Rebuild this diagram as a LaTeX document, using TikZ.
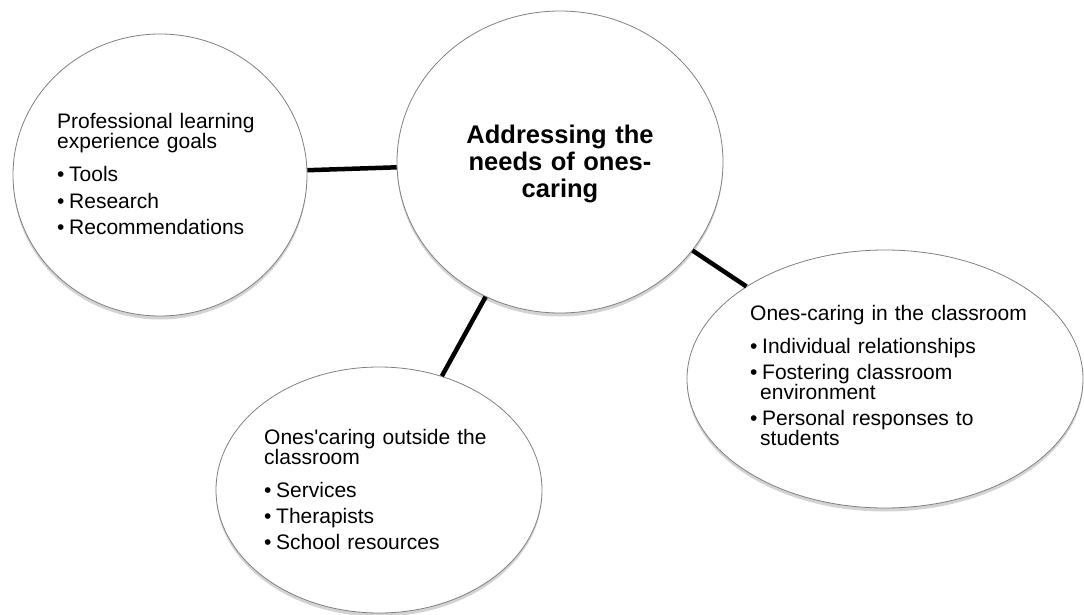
\documentclass[tikz,border=0pt]{standalone}
\usepackage{fontspec}
\setmainfont{Liberation Sans}
\usetikzlibrary{shapes.geometric,shadows}

\tikzset{
  bubble/.style={ellipse, draw=gray, line width=0.8pt, fill=white, inner sep=0pt,
    drop shadow={shadow xshift=0pt, shadow yshift=-3.5pt, opacity=0.35}},
  link/.style={line width=4.5pt, black},
  blurb/.style={anchor=base west, inner sep=0pt, text width=300pt, align=left,
    font=\fontsize{21}{20}\selectfont}
}
\newcommand{\itm}{\makebox[12pt][l]{•}}

\begin{document}
\begin{tikzpicture}[x=1pt, y=-1pt]
  \useasboundingbox (0,0) rectangle (1084,615);
  \node[bubble, minimum width=294pt, minimum height=282pt] (prof) at (160,175) {};
  \node[bubble, minimum width=326pt, minimum height=302pt] (needs) at (560,162) {};
  \node[bubble, minimum width=396pt, minimum height=258pt] (inside) at (885,379) {};
  \node[bubble, minimum width=326pt, minimum height=246pt] (outside) at (379,490) {};
  \draw[link] (prof) -- (needs);
  \draw[link] (needs) -- (inside);
  \draw[link] (needs) -- (outside);
  \node[anchor=base, inner sep=0pt, text width=230pt, align=center,
    font=\bfseries\fontsize{25.5}{27}\selectfont] (needstext) at (560,143)
    {Addressing the\\needs of ones-\\caring};
  \node[blurb] (proftext) at (57,129) {Professional learning\\experience goals\\[13pt]
    \itm Tools\\[6pt]\itm Research\\[6pt]\itm Recommendations};
  \node[blurb] (insidetext) at (750,320) {Ones-caring in the classroom\\[13pt]
    \itm Individual relationships\\[6pt]\itm Fostering classroom\\\hspace*{10pt}environment\\[6pt]
    \itm Personal responses to\\\hspace*{10pt}students};
  \node[blurb] (outsidetext) at (264,444) {Ones\textquotesingle caring outside the\\classroom\\[13pt]
    \itm Services\\[6pt]\itm Therapists\\[6pt]\itm School resources};
\end{tikzpicture}
\end{document}
